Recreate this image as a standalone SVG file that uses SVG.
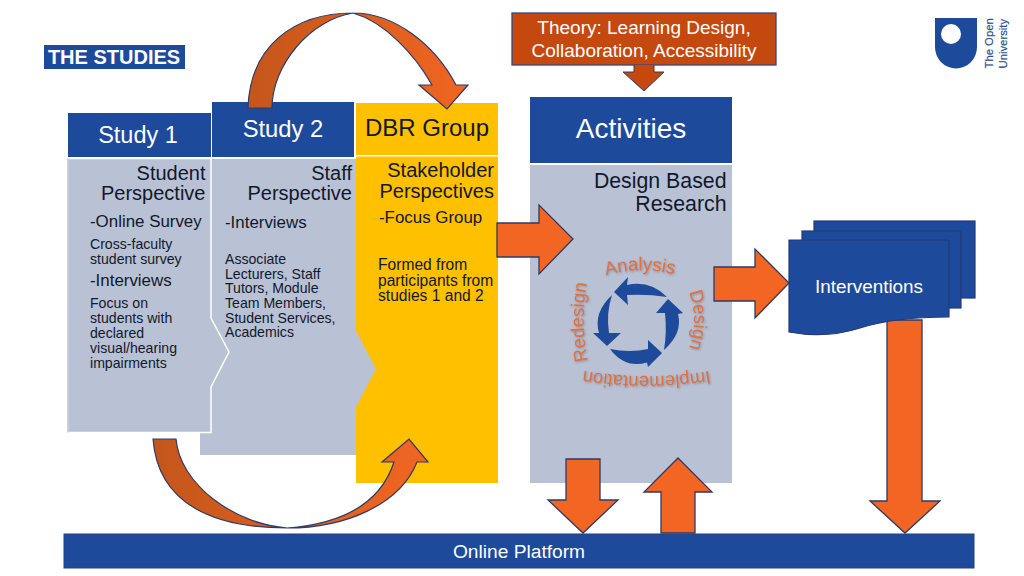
<svg xmlns="http://www.w3.org/2000/svg" width="1024" height="576" viewBox="0 0 1024 576">
<style>
text{font-family:"Liberation Sans",Arial,sans-serif;fill:#12182b}
.w{fill:#fff}
.hd{fill:#1e4a9c}
.bd{fill:#b9c1d5}
.bs{stroke:#fff;stroke-width:1.5}
.ar{fill:#f26522;stroke:#2f3a66;stroke-width:1.3;stroke-linejoin:miter}
.cy{fill:#1e4a9c}
.cyc{fill:#e2703a;font-size:18.500px;filter:url(#sh)}
.m{text-anchor:middle}
.e{text-anchor:end}
.s20{font-size:20px}
.s17{font-size:16.900px}
.s14{font-size:14.100px}
.doc{fill:#1e4a9c;stroke:#243a78;stroke-width:1.200}
.lg{font-size:11.300px;fill:#2d4f8f;stroke:#2d4f8f;stroke-width:.2}
</style>
<defs>
<linearGradient id="g1" x1="0" y1="0" x2="1" y2="0"><stop offset="0" stop-color="#c4561a"/><stop offset="1" stop-color="#f26522"/></linearGradient>
<filter id="sh" x="-20%" y="-20%" width="140%" height="140%"><feDropShadow dx="0.8" dy="1" stdDeviation="0.9" flood-color="#556" flood-opacity="0.5"/></filter>
<path id="pT" d="M604,276Q640,265 676,275"/>
<path id="pR" d="M688,289Q700,320 688,351"/>
<path id="pB" d="M708,371Q645,381 585,371"/>
<path id="pL" d="M588,362Q580,322 587,282"/>
</defs>
<rect width="1024" height="576" fill="#fff"/>

<g id="studies-label"><rect x="44" y="45" width="141" height="24" class="hd"/><text x="114" y="64" class="w m" font-weight="bold" font-size="20">THE STUDIES</text></g>

<g id="logo">
<path d="M935,18H977V47A21,21.500 0 0 1 935,47Z" fill="#1e4a9c"/><circle cx="951" cy="34" r="10" fill="#fff"/>
<text transform="translate(993,68.500) rotate(-90)" class="lg">The Open</text>
<text transform="translate(1007,68.500) rotate(-90)" class="lg">University</text>
</g>

<g id="dbr">
<rect x="356" y="103" width="142" height="52" fill="#ffc000"/>
<rect x="356" y="156.500" width="142" height="326.500" fill="#ffc000"/>
<text x="427" y="136" class="m" font-size="24">DBR Group</text>
<text x="494" y="177" class="e s20">Stakeholder</text>
<text x="494" y="198" class="e s20">Perspectives</text>
<text x="379" y="223" class="s17">-Focus Group</text>
<text x="378" y="270" font-size="15.600">Formed from</text>
<text x="378" y="286" font-size="15.600">participants from</text>
<text x="378" y="301" font-size="15.600">studies 1 and 2</text>
</g>

<g id="study2">
<rect x="212" y="102" width="142" height="55" class="hd"/>
<path d="M200,159H356V331L376,369L356,407V455H200Z" class="bd"/>
<text x="283" y="137" class="w m" font-size="23.800">Study 2</text>
<text x="352" y="180" class="e s20">Staff</text>
<text x="352" y="200" class="e s20">Perspective</text>
<text x="225" y="228" class="s17">-Interviews</text>
<text x="225" y="264" class="s14">Associate</text>
<text x="225" y="278.500" class="s14">Lecturers, Staff</text>
<text x="225" y="293" class="s14">Tutors, Module</text>
<text x="225" y="308" class="s14">Team Members,</text>
<text x="225" y="322.500" class="s14">Student Services,</text>
<text x="225" y="337" class="s14">Academics</text>
</g>

<g id="study1">
<rect x="68" y="113" width="143" height="44" class="hd"/>
<path d="M68,158.500H211V318L229,352L211,387V432.500H68Z" class="bd bs"/>
<path d="M68,158.500V432.500" stroke="#b9c1d5" stroke-width="1.500"/>
<text x="138" y="143" class="w m" font-size="23.500">Study 1</text>
<text x="205.500" y="180" class="e s20">Student</text>
<text x="205.500" y="200" class="e s20">Perspective</text>
<text x="90" y="227" class="s17">-Online Survey</text>
<text x="90" y="249" class="s14">Cross-faculty</text>
<text x="90" y="264" class="s14">student survey</text>
<text x="90" y="286" class="s17">-Interviews</text>
<text x="90" y="308" class="s14">Focus on</text>
<text x="90" y="323" class="s14">students with</text>
<text x="90" y="338" class="s14">declared</text>
<text x="90" y="353" class="s14">visual/hearing</text>
<text x="90" y="367.500" class="s14">impairments</text>
</g>

<g id="activities">
<rect x="530" y="97" width="202" height="66" class="hd"/>
<rect x="530" y="165" width="202" height="318" class="bd"/>
<text x="631" y="138" class="w m" font-size="28">Activities</text>
<text x="726.500" y="188" class="e" font-size="21.300">Design Based</text>
<text x="726.500" y="211" class="e" font-size="21.300">Research</text>
</g>

<g id="cycle">
<text class="cyc m"><textPath href="#pT" startOffset="50%">Analysis</textPath></text>
<text class="cyc m"><textPath href="#pR" startOffset="50%">Design</textPath></text>
<text class="cyc m"><textPath href="#pB" startOffset="50%">Implementation</textPath></text>
<text class="cyc m"><textPath href="#pL" startOffset="50%">Redesign</textPath></text>
<path class="cy" d="M614,292L628,277L627,285Q650,280 667,297Q648,294 627,295L628,305Z"/>
<path class="cy" d="M668,299L683,313L678,314Q683,333 664,350Q667,332 665,313L656,313Z"/>
<path class="cy" d="M662,353L648,367L647,362.500Q625,369 610,349Q630,353 648,349L648,340Z"/>
<path class="cy" d="M607,346L593,333L599,333Q593,313 612,295Q606,313 609,333L621,333Z"/>
</g>

<g id="theory">
<rect x="512" y="13" width="264" height="52" fill="#c5480e" stroke="#2f4a86" stroke-width="1.300"/>
<text x="644" y="34" class="w m" font-size="19">Theory: Learning Design,</text>
<text x="644" y="57" class="w m" font-size="19">Collaboration, Accessibility</text>
</g>

<g id="connectors">
<path d="M634,65V72H623L644,91L664,72H654V65" fill="#c5480e" stroke="#2f3a66" stroke-width="1"/>
<path d="M248,108C250,45 295,13 353,13C395,13 435,45 456,85H468L447,109L419,85H432C415,55 385,22 353,13C310,20 272,65 272,108Z" fill="url(#g1)" stroke="#2f3a66" stroke-width="1.200"/>
<path d="M153,439H176C180,485 235,524 287,528C340,524 380,505 394,462H382L409,439L428,462H417C400,505 345,528 287,528C215,528 158,505 153,439Z" fill="url(#g1)" stroke="#2f3a66" stroke-width="1.200"/>
<path class="ar" d="M497,223H539V205L573,239L539,274V257H497Z"/>
<path class="ar" d="M714,267H755V249L789,283L755,318V301H714Z"/>
<path class="ar" d="M887,320H922V501H940L905,533L870,501H887Z"/>
<path class="ar" d="M566,459H600V500H618L583,533L548,500H566Z"/>
<path class="ar" d="M661,533V492H644L678,458L712,492H695V533Z"/>
</g>

<g id="interventions">
<rect x="814" y="221" width="161" height="77" class="doc"/>
<rect x="802" y="231" width="159" height="77" class="doc"/>
<path class="doc" d="M789,240H949V317C915,317 885,320 860,328C835,336 810,336 789,332Z"/>
<text x="869" y="293" class="w m" font-size="18.900">Interventions</text>
</g>

<g id="platform">
<rect x="64" y="534" width="910" height="34" fill="#1e4a9c" stroke="#243f80" stroke-width="1"/>
<text x="519" y="558" class="w m" font-size="19.200">Online Platform</text>
</g>
</svg>
